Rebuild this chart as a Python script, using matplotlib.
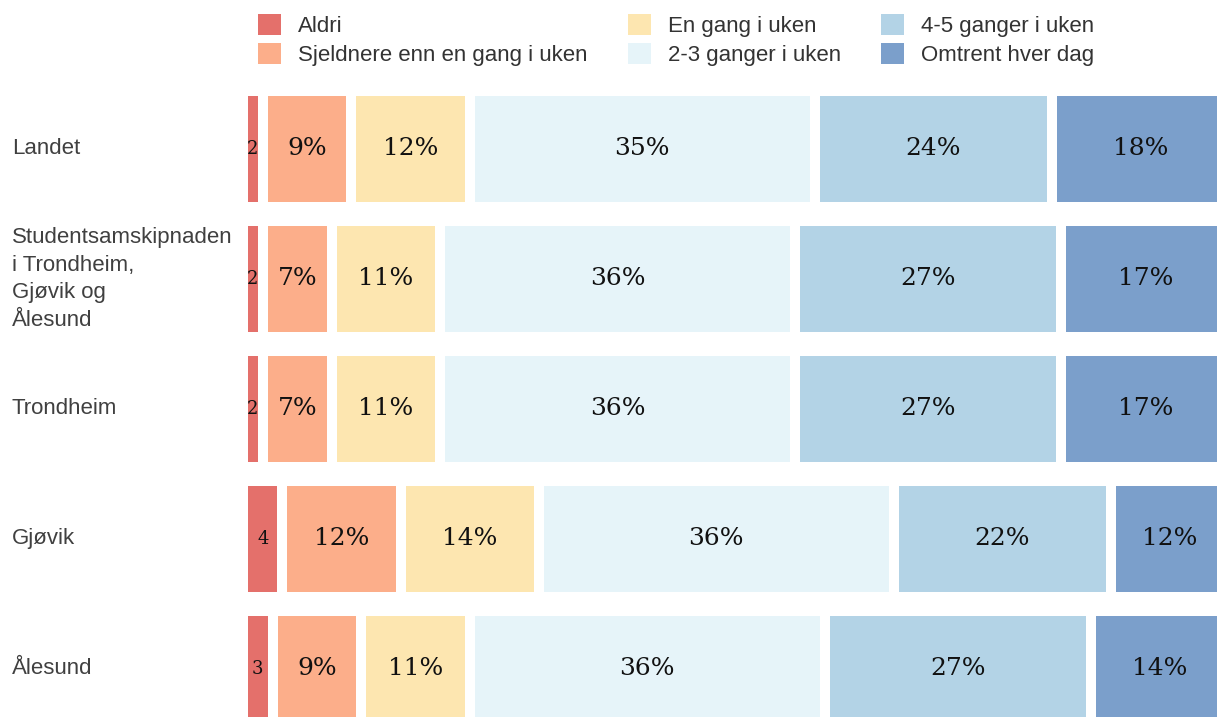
import numpy as np
import matplotlib.pyplot as plt
from matplotlib.patches import Patch
from matplotlib.transforms import blended_transform_factory


categories = ["Landet", "Studentsamskipnaden\ni Trondheim,\nGjøvik og\nÅlesund",
              "Trondheim", "Gjøvik", "Ålesund"]
answers = ["Aldri", "Sjeldnere enn en gang i uken", "En gang i uken",
           "2-3 ganger i uken", "4-5 ganger i uken", "Omtrent hver dag"]

# percent per answer, one entry per category
aldri = [2, 2, 2, 4, 3]
sjeldnere = [9, 7, 7, 12, 9]
en_gang = [12, 11, 11, 14, 11]
to_tre = [35, 36, 36, 36, 36]
fire_fem = [24, 27, 27, 22, 27]
hver_dag = [18, 17, 17, 12, 14]

colors = ["#e4706b", "#fcae8a", "#fde6b0", "#e6f4f9", "#b3d3e6", "#7b9fcb"]

series = [aldri, sjeldnere, en_gang, to_tre, fire_fem, hver_dag]

fig = plt.figure(figsize=(12.17, 7.17), dpi=100)
W, H = 1217.0, 717.0
# axes reaches past the right and bottom edge, like the original
ax = fig.add_axes([243 / W, 1 - 734 / H, 986 / W, (734 - 84) / H])

y = np.arange(len(categories))
left = np.zeros(len(categories))
for vals, col in zip(series, colors):
    vals = np.array(vals, dtype=float)
    ax.barh(y, vals, left=left, height=0.89, color=col, edgecolor="white", linewidth=7.2)
    for yi, l, v in zip(y, left, vals):
        if v < 5:
            ax.text(l + v / 2, yi, "%d" % v, ha="center", va="center",
                    fontsize=13, family="DejaVu Serif", color="#111111")
        else:
            ax.text(l + v / 2, yi, "%d%%" % v, ha="center", va="center",
                    fontsize=18, family="DejaVu Serif", color="#111111")
    left += vals

ax.set_xlim(0, 100)
ax.set_ylim(len(categories) - 0.5, -0.5)
ax.axis("off")

trans = blended_transform_factory(fig.transFigure, ax.transData)
for yi, cat in zip(y, categories):
    ax.text(12 / W, yi, cat, transform=trans, ha="left", va="center",
            fontsize=16, family="Liberation Sans", color="#404040",
            linespacing=1.42)

handles = [Patch(facecolor=c, edgecolor="none") for c in colors]
fig.legend(handles, answers, ncol=3, loc="upper left",
           bbox_to_anchor=(258 / W, 1 - 14 / H), frameon=False,
           prop={"family": "Liberation Sans", "size": 16},
           handlelength=1.05, handleheight=1.05, handletextpad=0.75,
           columnspacing=1.8, labelspacing=0.28, borderpad=0, borderaxespad=0,
           labelcolor="#333333")

fig.savefig("out.png", dpi=100)
